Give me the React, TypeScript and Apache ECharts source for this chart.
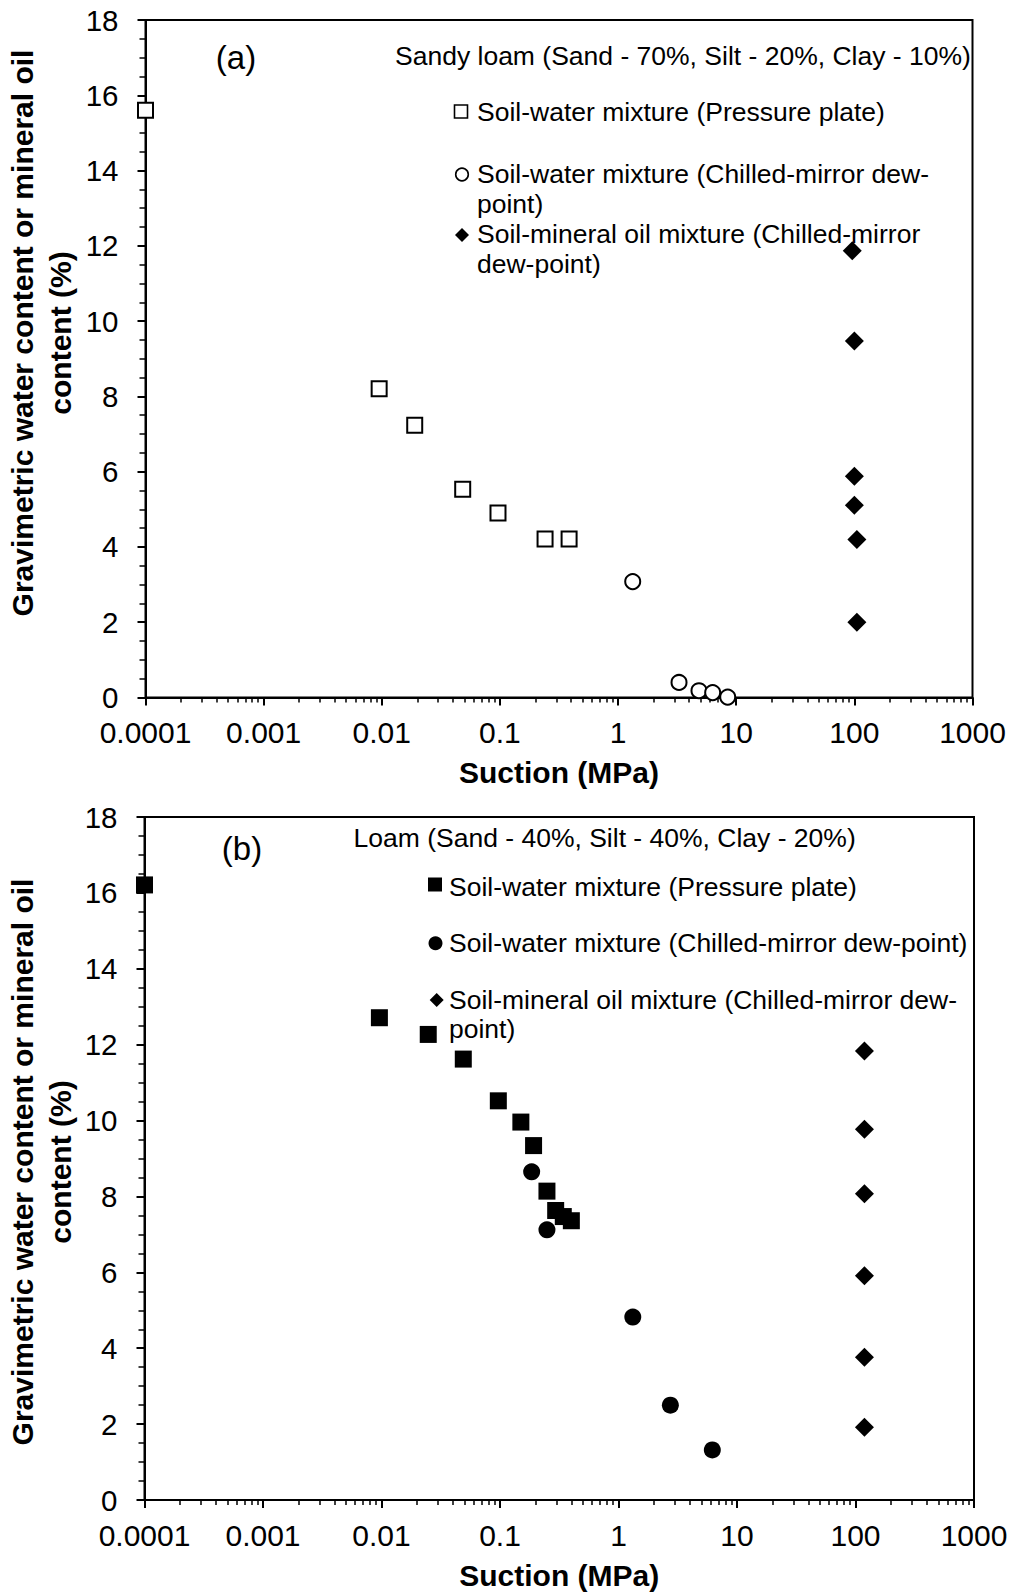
import React, { useEffect, useRef } from "react";
import * as echarts from "echarts";

// ---------- data ----------
const xTickLabels = ["0.0001", "0.001", "0.01", "0.1", "1", "10", "100", "1000"];

// Panel (a) – Sandy loam
const aPressureX = [0.0001, 0.0095, 0.019, 0.0484, 0.0963, 0.241, 0.385];
const aPressureY = [15.6, 8.2, 7.23, 5.53, 4.9, 4.21, 4.21];
const aDewX = [1.33, 3.28, 4.84, 6.32, 8.47];
const aDewY = [3.08, 0.4, 0.18, 0.13, 0.01];
const aOilX = [96, 100, 100, 100, 105, 105];
const aOilY = [11.87, 9.47, 5.88, 5.11, 4.2, 2.0];

// Panel (b) – Loam
const bPressureX = [0.0001, 0.0096, 0.0248, 0.049, 0.0968, 0.15, 0.192, 0.249, 0.295, 0.342, 0.4];
const bPressureY = [16.21, 12.71, 12.27, 11.62, 10.52, 9.96, 9.34, 8.14, 7.63, 7.47, 7.36];
const bDewX = [0.185, 0.249, 1.32, 2.74, 6.19];
const bDewY = [8.65, 7.12, 4.82, 2.5, 1.32];
const bOilX = [119, 119, 119, 119, 119, 119];
const bOilY = [11.83, 9.77, 8.07, 5.91, 3.76, 1.92];

const panelLabels = ["(a)", "(b)"];
const soilTitles = [
  "Sandy loam (Sand - 70%, Silt - 20%, Clay - 10%)",
  "Loam (Sand - 40%, Silt - 40%, Clay - 20%)",
];
const seriesNames = [
  "Soil-water mixture (Pressure plate)",
  "Soil-water mixture (Chilled-mirror dew-point)",
  "Soil-mineral oil mixture (Chilled-mirror dew-point)",
];
const yTitleLines = ["Gravimetric water content or mineral oil", "content (%)"];
const xTitle = "Suction (MPa)";

const FONT = '"Liberation Sans", Arial, Helvetica, sans-serif';

const zip = (xs: number[], ys: number[]) => xs.map((x, i) => [x, ys[i]]);

function xAxisDef(gridIndex: number) {
  return {
    type: "log",
    gridIndex,
    logBase: 10,
    min: 0.0001,
    max: 1000,
    interval: 1,
    axisLine: { show: true, onZero: false, lineStyle: { color: "#000", width: 2 } },
    axisTick: { show: true, inside: false, length: 8, lineStyle: { color: "#000", width: 2 } },
    minorTick: { show: true, splitNumber: 9, length: 5, lineStyle: { color: "#000", width: 1.5 } },
    splitLine: { show: false },
    minorSplitLine: { show: false },
    axisLabel: {
      show: true,
      interval: 0,
      margin: 20,
      fontSize: 30,
      lineHeight: 30,
      fontFamily: FONT,
      color: "#000",
      showMinLabel: true,
      showMaxLabel: true,
      formatter: (v: number) => {
        const k = Math.round(Math.log10(v)) + 4;
        return xTickLabels[k] ?? "";
      },
    },
    name: xTitle,
    nameLocation: "middle",
    nameGap: 60,
    nameTextStyle: { fontSize: 30, lineHeight: 30, fontWeight: "bold", fontFamily: FONT, color: "#000" },
  };
}

function yAxisDef(gridIndex: number) {
  return {
    type: "value",
    gridIndex,
    min: 0,
    max: 18,
    interval: 2,
    axisLine: { show: true, onZero: false, lineStyle: { color: "#000", width: 2 } },
    axisTick: { show: true, inside: false, length: 8, lineStyle: { color: "#000", width: 2 } },
    minorTick: { show: true, splitNumber: 4, length: 6, lineStyle: { color: "#000", width: 1.5 } },
    splitLine: { show: false },
    minorSplitLine: { show: false },
    axisLabel: { margin: 27, fontSize: 29.5, fontFamily: FONT, color: "#000" },
  };
}

function scatter(idx: number, name: string, data: number[][], symbol: string, size: number, filled: boolean) {
  return {
    type: "scatter",
    name,
    xAxisIndex: idx,
    yAxisIndex: idx,
    data,
    symbol,
    symbolSize: size,
    clip: false,
    silent: true,
    emphasis: { disabled: true },
    itemStyle: filled
      ? { color: "#000", opacity: 1 }
      : { color: "#fff", borderColor: "#000", borderWidth: 2, opacity: 1 },
    z: 5,
  };
}

function txt(x: number, y: number, text: string, extra: any = {}) {
  return {
    type: "text",
    x,
    y,
    silent: true,
    rotation: extra.rotation ?? 0,
    style: {
      text,
      fill: "#000",
      fontFamily: FONT,
      fontSize: extra.fontSize ?? 26.5,
      fontWeight: extra.fontWeight ?? "normal",
      textAlign: extra.align ?? "left",
      textVerticalAlign: "middle",
      verticalAlign: "middle",
    },
    z: 10,
  };
}

function square(cx: number, cy: number, s: number, filled: boolean) {
  return {
    type: "rect",
    silent: true,
    shape: { x: cx - s / 2, y: cy - s / 2, width: s, height: s },
    style: filled ? { fill: "#000" } : { fill: "#fff", stroke: "#000", lineWidth: 1.6 },
    z: 10,
  };
}
function dot(cx: number, cy: number, r: number, filled: boolean) {
  return {
    type: "circle",
    silent: true,
    shape: { cx, cy, r },
    style: filled ? { fill: "#000" } : { fill: "#fff", stroke: "#000", lineWidth: 1.6 },
    z: 10,
  };
}
function diamond(cx: number, cy: number, h: number) {
  return {
    type: "polygon",
    silent: true,
    shape: { points: [[cx, cy - h], [cx + h, cy], [cx, cy + h], [cx - h, cy]] },
    style: { fill: "#000" },
    z: 10,
  };
}

export default function App() {
  const ref = useRef<HTMLDivElement>(null);

  useEffect(() => {
    document.body.style.margin = "0";
    if (!ref.current) return;
    const chart = echarts.init(ref.current, null, { renderer: "svg" });

    const option: any = {
      animation: false,
      backgroundColor: "#fff",
      textStyle: { fontFamily: FONT },
      grid: [
        { left: 145.5, top: 20, width: 827, height: 677.5, show: true, borderColor: "#000", borderWidth: 2, backgroundColor: "transparent", containLabel: false, outerBoundsMode: "none" },
        { left: 144.5, top: 817, width: 829.5, height: 683, show: true, borderColor: "#000", borderWidth: 2, backgroundColor: "transparent", containLabel: false, outerBoundsMode: "none" },
      ],
      xAxis: [xAxisDef(0), xAxisDef(1)],
      yAxis: [yAxisDef(0), yAxisDef(1)],
      series: [
        scatter(0, seriesNames[0], zip(aPressureX, aPressureY), "rect", 15, false),
        scatter(0, seriesNames[1], zip(aDewX, aDewY), "circle", 15, false),
        scatter(0, seriesNames[2], zip(aOilX, aOilY), "diamond", 19, true),
        scatter(1, seriesNames[0], zip(bPressureX, bPressureY), "rect", 17, true),
        scatter(1, seriesNames[1], zip(bDewX, bDewY), "circle", 17, true),
        scatter(1, seriesNames[2], zip(bOilX, bOilY), "diamond", 19, true),
      ],
      graphic: [
        // y axis titles
        txt(22.5, 333, yTitleLines[0], { rotation: Math.PI / 2, align: "center", fontSize: 30, fontWeight: "bold" }),
        txt(60, 333, yTitleLines[1], { rotation: Math.PI / 2, align: "center", fontSize: 30, fontWeight: "bold" }),
        txt(22.5, 1162, yTitleLines[0], { rotation: Math.PI / 2, align: "center", fontSize: 30, fontWeight: "bold" }),
        txt(60, 1162, yTitleLines[1], { rotation: Math.PI / 2, align: "center", fontSize: 30, fontWeight: "bold" }),
        // panel labels
        txt(236, 57, panelLabels[0], { align: "center", fontSize: 33 }),
        txt(242, 848, panelLabels[1], { align: "center", fontSize: 33 }),
        // panel (a) legend
        txt(395, 56, soilTitles[0]),
        square(461, 111.5, 13, false),
        txt(477, 112, seriesNames[0]),
        dot(462, 174.5, 6.3, false),
        txt(477, 174, "Soil-water mixture (Chilled-mirror dew-"),
        txt(477, 204, "point)"),
        diamond(462, 235, 7),
        txt(477, 234, "Soil-mineral oil mixture (Chilled-mirror"),
        txt(477, 264, "dew-point)"),
        // panel (b) legend
        txt(353.5, 838, soilTitles[1]),
        square(435, 884.5, 14, true),
        txt(449, 886.5, seriesNames[0]),
        dot(435.5, 943.3, 7, true),
        txt(449, 943, seriesNames[1]),
        diamond(436.7, 1000, 7),
        txt(449, 999.5, "Soil-mineral oil mixture (Chilled-mirror dew-"),
        txt(449, 1029, "point)"),
      ],
    };

    chart.setOption(option);
    return () => chart.dispose();
  }, []);

  return <div ref={ref} style={{ width: 1014, height: 1593 }} />;
}
